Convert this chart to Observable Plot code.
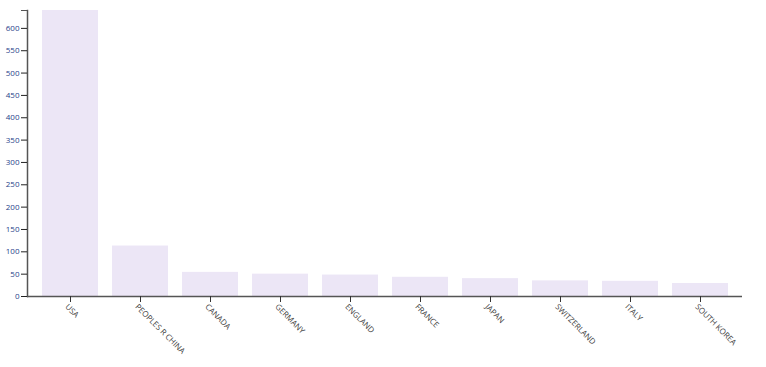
<!DOCTYPE html>
<html>
<head>
<meta charset="utf-8">
<script src="https://cdn.jsdelivr.net/npm/d3@7"></script>
<script src="https://cdn.jsdelivr.net/npm/@observablehq/plot@0.6"></script>
<style>
  body { margin: 0; background: #fff; }
</style>
</head>
<body>
<div id="chart"></div>
<script>
const countries = ["USA", "PEOPLES R CHINA", "CANADA", "GERMANY", "ENGLAND", "FRANCE", "JAPAN", "SWITZERLAND", "ITALY", "SOUTH KOREA"];
const counts = [640, 113, 54, 50, 48, 43, 40, 35, 34, 29];
const yTicks = [0, 50, 100, 150, 200, 250, 300, 350, 400, 450, 500, 550, 600];

const data = countries.map((c, i) => ({country: c, count: counts[i]}));

const chart = Plot.plot({
  width: 766,
  height: 367,
  marginTop: 10,
  marginBottom: 71,
  marginLeft: 27,
  marginRight: 24,
  style: {fontFamily: "'Open Sans', sans-serif", fontSize: "8px", background: "#fff"},
  x: {domain: countries, padding: 0.2, label: null},
  y: {domain: [0, d3.max(counts)], label: null},
  marks: [
    Plot.barY(data, {x: "country", y: "count", fill: "#ece6f6"}),
    Plot.frame({anchor: "left", stroke: "#555", strokeWidth: 1.5}),
    Plot.ruleY([0], {stroke: "#555", strokeWidth: 1.5}),
    Plot.axisY({ticks: yTicks, tickSize: 6, tickPadding: 2, stroke: "#222", fill: "#1f3f8a", label: null, fontSize: 8}),
    Plot.axisY({ticks: [d3.max(counts)], tickSize: 6, tickFormat: () => "", stroke: "#555", label: null}),
    Plot.axisX({tickSize: 6, tickFormat: () => "", stroke: "#333", label: null}),
    Plot.axisX({tickSize: 0, tickPadding: 9, dx: -4, tickRotate: 45, textAnchor: "start", fill: "#444", label: null, fontSize: 8})
  ]
});
document.getElementById("chart").appendChild(chart);
</script>
</body>
</html>
